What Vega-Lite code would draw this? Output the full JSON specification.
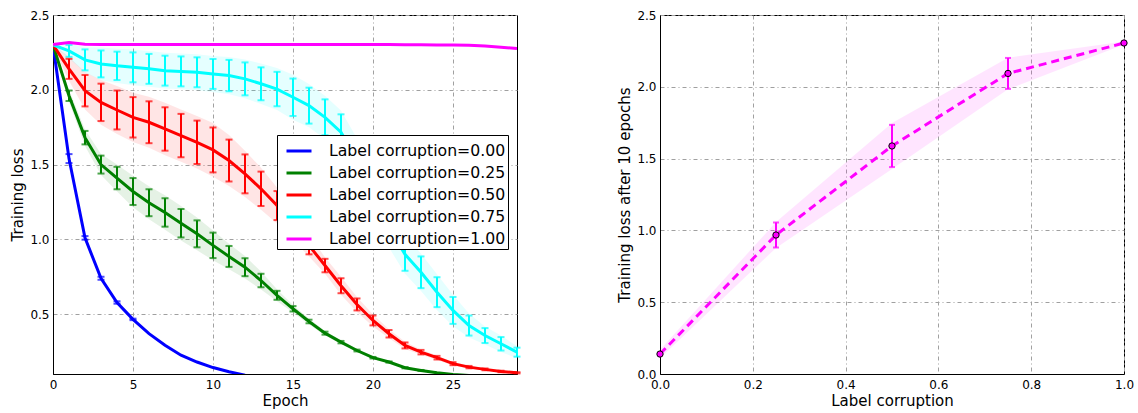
{
  "$schema": "https://vega.github.io/schema/vega-lite/v6.json",
  "background": "white",
  "padding": {"left": 10, "top": 8, "right": 10, "bottom": 4},
  "bounds": "flush",
  "spacing": 143,
  "config": {
    "font": "DejaVu Sans",
    "view": {"stroke": "black", "strokeWidth": 1},
    "axis": {
      "labelFont": "DejaVu Sans", "labelFontSize": 12, "labelColor": "black", "labelFlush": false, "labelOverlap": false,
      "titleFont": "DejaVu Sans", "titleFontSize": 15, "titleFontWeight": "normal", "titleColor": "black",
      "domainColor": "black", "domainWidth": 1, "ticks": false, "labelPadding": 4, "titlePadding": 4,
      "grid": true, "gridColor": "#a0a0a0", "gridDash": [4, 3, 1, 3], "gridWidth": 1, "gridOpacity": 1
    },
    "axisX": {"labelPadding": 5, "titlePadding": 3}
  },
  "hconcat": [
    {
      "width": 464, "height": 359,
      "data": {"values": [
        {"series": "Label corruption=0.00", "epoch": 0, "loss": 2.30, "err": 0, "band": 0.005},
        {"series": "Label corruption=0.00", "epoch": 1, "loss": 1.54, "err": 0.03, "band": 0.035},
        {"series": "Label corruption=0.00", "epoch": 2, "loss": 1.01, "err": 0.012, "band": 0.015},
        {"series": "Label corruption=0.00", "epoch": 3, "loss": 0.74, "err": 0.01, "band": 0.012},
        {"series": "Label corruption=0.00", "epoch": 4, "loss": 0.578, "err": 0.008, "band": 0.01},
        {"series": "Label corruption=0.00", "epoch": 5, "loss": 0.465, "err": 0.005, "band": 0.008},
        {"series": "Label corruption=0.00", "epoch": 6, "loss": 0.37, "err": 0, "band": 0.006},
        {"series": "Label corruption=0.00", "epoch": 7, "loss": 0.292, "err": 0, "band": 0.005},
        {"series": "Label corruption=0.00", "epoch": 8, "loss": 0.226, "err": 0, "band": 0.005},
        {"series": "Label corruption=0.00", "epoch": 9, "loss": 0.18, "err": 0, "band": 0.005},
        {"series": "Label corruption=0.00", "epoch": 10, "loss": 0.143, "err": 0, "band": 0.005},
        {"series": "Label corruption=0.00", "epoch": 11, "loss": 0.115, "err": 0, "band": 0.005},
        {"series": "Label corruption=0.00", "epoch": 12, "loss": 0.092, "err": 0, "band": 0.004},
        {"series": "Label corruption=0.00", "epoch": 13, "loss": 0.077, "err": 0, "band": 0.004},
        {"series": "Label corruption=0.00", "epoch": 14, "loss": 0.065, "err": 0, "band": 0.004},
        {"series": "Label corruption=0.00", "epoch": 15, "loss": 0.055, "err": 0, "band": 0.004},
        {"series": "Label corruption=0.00", "epoch": 16, "loss": 0.047, "err": 0, "band": 0.003},
        {"series": "Label corruption=0.00", "epoch": 17, "loss": 0.041, "err": 0, "band": 0.003},
        {"series": "Label corruption=0.00", "epoch": 18, "loss": 0.036, "err": 0, "band": 0.003},
        {"series": "Label corruption=0.00", "epoch": 19, "loss": 0.032, "err": 0, "band": 0.003},
        {"series": "Label corruption=0.00", "epoch": 20, "loss": 0.028, "err": 0, "band": 0.003},
        {"series": "Label corruption=0.00", "epoch": 21, "loss": 0.025, "err": 0, "band": 0.003},
        {"series": "Label corruption=0.00", "epoch": 22, "loss": 0.022, "err": 0, "band": 0.002},
        {"series": "Label corruption=0.00", "epoch": 23, "loss": 0.02, "err": 0, "band": 0.002},
        {"series": "Label corruption=0.00", "epoch": 24, "loss": 0.018, "err": 0, "band": 0.002},
        {"series": "Label corruption=0.00", "epoch": 25, "loss": 0.016, "err": 0, "band": 0.002},
        {"series": "Label corruption=0.00", "epoch": 26, "loss": 0.015, "err": 0, "band": 0.002},
        {"series": "Label corruption=0.00", "epoch": 27, "loss": 0.014, "err": 0, "band": 0.002},
        {"series": "Label corruption=0.00", "epoch": 28, "loss": 0.013, "err": 0, "band": 0.002},
        {"series": "Label corruption=0.00", "epoch": 29, "loss": 0.012, "err": 0, "band": 0.002},

        {"series": "Label corruption=0.25", "epoch": 0, "loss": 2.30, "err": 0, "band": 0.005},
        {"series": "Label corruption=0.25", "epoch": 1, "loss": 1.96, "err": 0.035, "band": 0.04},
        {"series": "Label corruption=0.25", "epoch": 2, "loss": 1.68, "err": 0.045, "band": 0.055},
        {"series": "Label corruption=0.25", "epoch": 3, "loss": 1.50, "err": 0.06, "band": 0.07},
        {"series": "Label corruption=0.25", "epoch": 4, "loss": 1.41, "err": 0.075, "band": 0.09},
        {"series": "Label corruption=0.25", "epoch": 5, "loss": 1.32, "err": 0.09, "band": 0.105},
        {"series": "Label corruption=0.25", "epoch": 6, "loss": 1.245, "err": 0.09, "band": 0.11},
        {"series": "Label corruption=0.25", "epoch": 7, "loss": 1.18, "err": 0.095, "band": 0.115},
        {"series": "Label corruption=0.25", "epoch": 8, "loss": 1.108, "err": 0.095, "band": 0.115},
        {"series": "Label corruption=0.25", "epoch": 9, "loss": 1.037, "err": 0.09, "band": 0.11},
        {"series": "Label corruption=0.25", "epoch": 10, "loss": 0.96, "err": 0.085, "band": 0.1},
        {"series": "Label corruption=0.25", "epoch": 11, "loss": 0.886, "err": 0.07, "band": 0.085},
        {"series": "Label corruption=0.25", "epoch": 12, "loss": 0.814, "err": 0.06, "band": 0.075},
        {"series": "Label corruption=0.25", "epoch": 13, "loss": 0.725, "err": 0.045, "band": 0.06},
        {"series": "Label corruption=0.25", "epoch": 14, "loss": 0.626, "err": 0.03, "band": 0.04},
        {"series": "Label corruption=0.25", "epoch": 15, "loss": 0.536, "err": 0.018, "band": 0.025},
        {"series": "Label corruption=0.25", "epoch": 16, "loss": 0.451, "err": 0.012, "band": 0.02},
        {"series": "Label corruption=0.25", "epoch": 17, "loss": 0.373, "err": 0.01, "band": 0.015},
        {"series": "Label corruption=0.25", "epoch": 18, "loss": 0.313, "err": 0.008, "band": 0.012},
        {"series": "Label corruption=0.25", "epoch": 19, "loss": 0.257, "err": 0.006, "band": 0.01},
        {"series": "Label corruption=0.25", "epoch": 20, "loss": 0.209, "err": 0.005, "band": 0.008},
        {"series": "Label corruption=0.25", "epoch": 21, "loss": 0.18, "err": 0.004, "band": 0.007},
        {"series": "Label corruption=0.25", "epoch": 22, "loss": 0.142, "err": 0.004, "band": 0.006},
        {"series": "Label corruption=0.25", "epoch": 23, "loss": 0.124, "err": 0.003, "band": 0.005},
        {"series": "Label corruption=0.25", "epoch": 24, "loss": 0.108, "err": 0, "band": 0.005},
        {"series": "Label corruption=0.25", "epoch": 25, "loss": 0.097, "err": 0, "band": 0.005},
        {"series": "Label corruption=0.25", "epoch": 26, "loss": 0.09, "err": 0, "band": 0.004},
        {"series": "Label corruption=0.25", "epoch": 27, "loss": 0.084, "err": 0, "band": 0.004},
        {"series": "Label corruption=0.25", "epoch": 28, "loss": 0.079, "err": 0, "band": 0.004},
        {"series": "Label corruption=0.25", "epoch": 29, "loss": 0.075, "err": 0, "band": 0.004},

        {"series": "Label corruption=0.50", "epoch": 0, "loss": 2.30, "err": 0, "band": 0.005},
        {"series": "Label corruption=0.50", "epoch": 1, "loss": 2.14, "err": 0.067, "band": 0.08},
        {"series": "Label corruption=0.50", "epoch": 2, "loss": 1.994, "err": 0.105, "band": 0.125},
        {"series": "Label corruption=0.50", "epoch": 3, "loss": 1.916, "err": 0.125, "band": 0.15},
        {"series": "Label corruption=0.50", "epoch": 4, "loss": 1.865, "err": 0.13, "band": 0.16},
        {"series": "Label corruption=0.50", "epoch": 5, "loss": 1.816, "err": 0.135, "band": 0.165},
        {"series": "Label corruption=0.50", "epoch": 6, "loss": 1.783, "err": 0.14, "band": 0.17},
        {"series": "Label corruption=0.50", "epoch": 7, "loss": 1.738, "err": 0.145, "band": 0.175},
        {"series": "Label corruption=0.50", "epoch": 8, "loss": 1.694, "err": 0.145, "band": 0.175},
        {"series": "Label corruption=0.50", "epoch": 9, "loss": 1.649, "err": 0.145, "band": 0.175},
        {"series": "Label corruption=0.50", "epoch": 10, "loss": 1.598, "err": 0.15, "band": 0.18},
        {"series": "Label corruption=0.50", "epoch": 11, "loss": 1.527, "err": 0.14, "band": 0.17},
        {"series": "Label corruption=0.50", "epoch": 12, "loss": 1.438, "err": 0.13, "band": 0.155},
        {"series": "Label corruption=0.50", "epoch": 13, "loss": 1.338, "err": 0.115, "band": 0.14},
        {"series": "Label corruption=0.50", "epoch": 14, "loss": 1.226, "err": 0.097, "band": 0.12},
        {"series": "Label corruption=0.50", "epoch": 15, "loss": 1.10, "err": 0.08, "band": 0.1},
        {"series": "Label corruption=0.50", "epoch": 16, "loss": 0.96, "err": 0.06, "band": 0.075},
        {"series": "Label corruption=0.50", "epoch": 17, "loss": 0.825, "err": 0.045, "band": 0.055},
        {"series": "Label corruption=0.50", "epoch": 18, "loss": 0.69, "err": 0.05, "band": 0.06},
        {"series": "Label corruption=0.50", "epoch": 19, "loss": 0.565, "err": 0.04, "band": 0.05},
        {"series": "Label corruption=0.50", "epoch": 20, "loss": 0.458, "err": 0.033, "band": 0.04},
        {"series": "Label corruption=0.50", "epoch": 21, "loss": 0.369, "err": 0.025, "band": 0.03},
        {"series": "Label corruption=0.50", "epoch": 22, "loss": 0.291, "err": 0.02, "band": 0.024},
        {"series": "Label corruption=0.50", "epoch": 23, "loss": 0.246, "err": 0.015, "band": 0.018},
        {"series": "Label corruption=0.50", "epoch": 24, "loss": 0.209, "err": 0.012, "band": 0.015},
        {"series": "Label corruption=0.50", "epoch": 25, "loss": 0.169, "err": 0.01, "band": 0.012},
        {"series": "Label corruption=0.50", "epoch": 26, "loss": 0.146, "err": 0.008, "band": 0.01},
        {"series": "Label corruption=0.50", "epoch": 27, "loss": 0.131, "err": 0.006, "band": 0.008},
        {"series": "Label corruption=0.50", "epoch": 28, "loss": 0.117, "err": 0.005, "band": 0.007},
        {"series": "Label corruption=0.50", "epoch": 29, "loss": 0.108, "err": 0.004, "band": 0.006},

        {"series": "Label corruption=0.75", "epoch": 0, "loss": 2.30, "err": 0, "band": 0.005},
        {"series": "Label corruption=0.75", "epoch": 1, "loss": 2.26, "err": 0.04, "band": 0.05},
        {"series": "Label corruption=0.75", "epoch": 2, "loss": 2.20, "err": 0.07, "band": 0.085},
        {"series": "Label corruption=0.75", "epoch": 3, "loss": 2.173, "err": 0.09, "band": 0.11},
        {"series": "Label corruption=0.75", "epoch": 4, "loss": 2.16, "err": 0.095, "band": 0.115},
        {"series": "Label corruption=0.75", "epoch": 5, "loss": 2.15, "err": 0.1, "band": 0.12},
        {"series": "Label corruption=0.75", "epoch": 6, "loss": 2.14, "err": 0.1, "band": 0.12},
        {"series": "Label corruption=0.75", "epoch": 7, "loss": 2.128, "err": 0.1, "band": 0.12},
        {"series": "Label corruption=0.75", "epoch": 8, "loss": 2.123, "err": 0.1, "band": 0.12},
        {"series": "Label corruption=0.75", "epoch": 9, "loss": 2.117, "err": 0.1, "band": 0.12},
        {"series": "Label corruption=0.75", "epoch": 10, "loss": 2.106, "err": 0.1, "band": 0.12},
        {"series": "Label corruption=0.75", "epoch": 11, "loss": 2.095, "err": 0.105, "band": 0.125},
        {"series": "Label corruption=0.75", "epoch": 12, "loss": 2.073, "err": 0.11, "band": 0.13},
        {"series": "Label corruption=0.75", "epoch": 13, "loss": 2.04, "err": 0.11, "band": 0.135},
        {"series": "Label corruption=0.75", "epoch": 14, "loss": 2.005, "err": 0.115, "band": 0.14},
        {"series": "Label corruption=0.75", "epoch": 15, "loss": 1.95, "err": 0.125, "band": 0.15},
        {"series": "Label corruption=0.75", "epoch": 16, "loss": 1.894, "err": 0.12, "band": 0.145},
        {"series": "Label corruption=0.75", "epoch": 17, "loss": 1.816, "err": 0.12, "band": 0.145},
        {"series": "Label corruption=0.75", "epoch": 18, "loss": 1.716, "err": 0.12, "band": 0.145},
        {"series": "Label corruption=0.75", "epoch": 19, "loss": 1.53, "err": 0.12, "band": 0.145},
        {"series": "Label corruption=0.75", "epoch": 20, "loss": 1.30, "err": 0.12, "band": 0.14},
        {"series": "Label corruption=0.75", "epoch": 21, "loss": 1.08, "err": 0.115, "band": 0.135},
        {"series": "Label corruption=0.75", "epoch": 22, "loss": 0.90, "err": 0.11, "band": 0.13},
        {"series": "Label corruption=0.75", "epoch": 23, "loss": 0.78, "err": 0.106, "band": 0.125},
        {"series": "Label corruption=0.75", "epoch": 24, "loss": 0.647, "err": 0.1, "band": 0.12},
        {"series": "Label corruption=0.75", "epoch": 25, "loss": 0.525, "err": 0.09, "band": 0.105},
        {"series": "Label corruption=0.75", "epoch": 26, "loss": 0.424, "err": 0.067, "band": 0.08},
        {"series": "Label corruption=0.75", "epoch": 27, "loss": 0.357, "err": 0.05, "band": 0.06},
        {"series": "Label corruption=0.75", "epoch": 28, "loss": 0.302, "err": 0.045, "band": 0.055},
        {"series": "Label corruption=0.75", "epoch": 29, "loss": 0.246, "err": 0.03, "band": 0.04},

        {"series": "Label corruption=1.00", "epoch": 0, "loss": 2.303, "err": 0, "band": 0.003},
        {"series": "Label corruption=1.00", "epoch": 1, "loss": 2.316, "err": 0, "band": 0.003},
        {"series": "Label corruption=1.00", "epoch": 2, "loss": 2.304, "err": 0, "band": 0.003},
        {"series": "Label corruption=1.00", "epoch": 3, "loss": 2.303, "err": 0, "band": 0.003},
        {"series": "Label corruption=1.00", "epoch": 4, "loss": 2.303, "err": 0, "band": 0.003},
        {"series": "Label corruption=1.00", "epoch": 5, "loss": 2.303, "err": 0, "band": 0.003},
        {"series": "Label corruption=1.00", "epoch": 6, "loss": 2.303, "err": 0, "band": 0.003},
        {"series": "Label corruption=1.00", "epoch": 7, "loss": 2.303, "err": 0, "band": 0.003},
        {"series": "Label corruption=1.00", "epoch": 8, "loss": 2.303, "err": 0, "band": 0.003},
        {"series": "Label corruption=1.00", "epoch": 9, "loss": 2.303, "err": 0, "band": 0.003},
        {"series": "Label corruption=1.00", "epoch": 10, "loss": 2.303, "err": 0, "band": 0.003},
        {"series": "Label corruption=1.00", "epoch": 11, "loss": 2.303, "err": 0, "band": 0.003},
        {"series": "Label corruption=1.00", "epoch": 12, "loss": 2.303, "err": 0, "band": 0.003},
        {"series": "Label corruption=1.00", "epoch": 13, "loss": 2.303, "err": 0, "band": 0.003},
        {"series": "Label corruption=1.00", "epoch": 14, "loss": 2.303, "err": 0, "band": 0.003},
        {"series": "Label corruption=1.00", "epoch": 15, "loss": 2.303, "err": 0, "band": 0.003},
        {"series": "Label corruption=1.00", "epoch": 16, "loss": 2.303, "err": 0, "band": 0.003},
        {"series": "Label corruption=1.00", "epoch": 17, "loss": 2.303, "err": 0, "band": 0.003},
        {"series": "Label corruption=1.00", "epoch": 18, "loss": 2.303, "err": 0, "band": 0.003},
        {"series": "Label corruption=1.00", "epoch": 19, "loss": 2.303, "err": 0, "band": 0.003},
        {"series": "Label corruption=1.00", "epoch": 20, "loss": 2.302, "err": 0, "band": 0.003},
        {"series": "Label corruption=1.00", "epoch": 21, "loss": 2.302, "err": 0, "band": 0.003},
        {"series": "Label corruption=1.00", "epoch": 22, "loss": 2.301, "err": 0, "band": 0.003},
        {"series": "Label corruption=1.00", "epoch": 23, "loss": 2.301, "err": 0, "band": 0.003},
        {"series": "Label corruption=1.00", "epoch": 24, "loss": 2.30, "err": 0, "band": 0.003},
        {"series": "Label corruption=1.00", "epoch": 25, "loss": 2.299, "err": 0, "band": 0.003},
        {"series": "Label corruption=1.00", "epoch": 26, "loss": 2.297, "err": 0, "band": 0.003},
        {"series": "Label corruption=1.00", "epoch": 27, "loss": 2.293, "err": 0, "band": 0.003},
        {"series": "Label corruption=1.00", "epoch": 28, "loss": 2.285, "err": 0, "band": 0.003},
        {"series": "Label corruption=1.00", "epoch": 29, "loss": 2.276, "err": 0, "band": 0.003}
      ]},
      "encoding": {
        "x": {"field": "epoch", "type": "quantitative",
              "scale": {"domain": [0, 29], "nice": false, "zero": false},
              "axis": {"title": "Epoch", "values": [0, 5, 10, 15, 20, 25]}},
        "y": {"field": "loss", "type": "quantitative",
              "scale": {"domain": [0.1, 2.5], "nice": false, "zero": false},
              "axis": {"title": "Training loss", "values": [0.5, 1.0, 1.5, 2.0, 2.5], "format": ".1f"}},
        "color": {"field": "series", "type": "nominal",
                  "scale": {"domain": ["Label corruption=0.00", "Label corruption=0.25", "Label corruption=0.50", "Label corruption=0.75", "Label corruption=1.00"],
                            "range": ["#0000ff", "#008000", "#ff0000", "#00ffff", "#ff00ff"]},
                  "legend": {"orient": "none", "legendX": 224, "legendY": 120, "title": null,
                             "symbolType": "stroke", "symbolSize": 625, "symbolStrokeWidth": 3, "symbolOpacity": 1, "symbolOffset": 6,
                             "labelFont": "DejaVu Sans", "labelFontSize": 15.7, "labelColor": "black", "labelOffset": 16, "labelLimit": 0,
                             "strokeColor": "black", "fillColor": "white", "padding": 2, "rowPadding": -0.5}}
      },
      "layer": [
        {"mark": {"type": "errorband", "clip": true, "band": {"opacity": 0.1}},
         "encoding": {"yError": {"field": "band"}}},
        {"transform": [{"filter": "datum.err > 0"}],
         "mark": {"type": "errorbar", "ticks": {"size": 7}, "thickness": 2},
         "encoding": {"yError": {"field": "err"}}},
        {"mark": {"type": "line", "clip": true, "strokeWidth": 3}}
      ]
    },
    {
      "width": 464, "height": 359,
      "data": {"values": [
        {"corruption": 0.0, "loss": 0.139, "err": 0.005, "band": 0.03},
        {"corruption": 0.25, "loss": 0.968, "err": 0.087, "band": 0.09},
        {"corruption": 0.5, "loss": 1.588, "err": 0.147, "band": 0.16},
        {"corruption": 0.75, "loss": 2.093, "err": 0.108, "band": 0.11},
        {"corruption": 1.0, "loss": 2.305, "err": 0.005, "band": 0.01}
      ]},
      "encoding": {
        "x": {"field": "corruption", "type": "quantitative",
              "scale": {"domain": [0, 1], "nice": false},
              "axis": {"title": "Label corruption", "values": [0, 0.2, 0.4, 0.6, 0.8, 1.0], "format": ".1f"}},
        "y": {"field": "loss", "type": "quantitative",
              "scale": {"domain": [0, 2.5], "nice": false},
              "axis": {"title": "Training loss after 10 epochs", "values": [0, 0.5, 1.0, 1.5, 2.0, 2.5], "format": ".1f"}}
      },
      "layer": [
        {"mark": {"type": "errorband", "color": "#ff00ff", "band": {"opacity": 0.1}},
         "encoding": {"yError": {"field": "band"}}},
        {"mark": {"type": "line", "color": "#ff00ff", "strokeWidth": 3, "strokeDash": [8, 5]}},
        {"mark": {"type": "errorbar", "color": "#ff00ff", "ticks": {"size": 6}, "thickness": 2},
         "encoding": {"yError": {"field": "err"}}},
        {"mark": {"type": "point", "shape": "circle", "filled": true, "fill": "#ff00ff", "stroke": "black", "strokeWidth": 1, "size": 40, "opacity": 1}}
      ]
    }
  ]
}
